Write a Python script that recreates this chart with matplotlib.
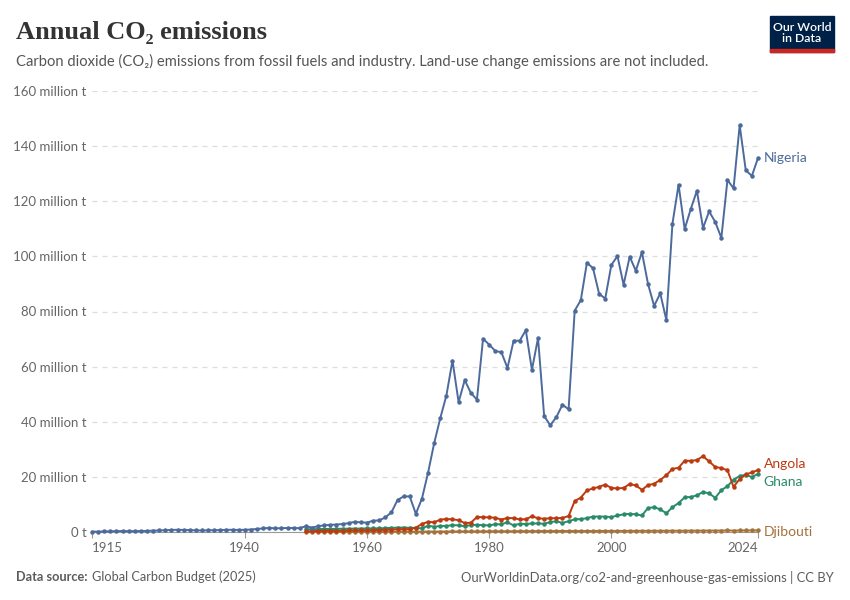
import matplotlib.pyplot as plt
from matplotlib.patches import Rectangle

# annual CO2 emissions, million tonnes
years_ng = list(range(1915, 2025))
nigeria = [0.1, 0.15, 0.2, 0.25, 0.3, 0.35, 0.3, 0.3, 0.35, 0.4,
           0.5, 0.55, 0.65, 0.75, 0.8, 0.75, 0.7, 0.6, 0.55, 0.6,
           0.65, 0.7, 0.8, 0.8, 0.75, 0.8, 0.9, 1.1, 1.3, 1.5,
           1.3, 1.4, 1.45, 1.45, 1.4, 2.1, 1.6, 2.1, 2.4, 2.6,
           2.7, 2.9, 3.2, 3.7, 3.5, 3.4, 4.1, 4.2, 5.3, 7.1,
           11.6, 12.9, 12.9, 6.6, 12.1, 21.5, 32.2, 41.3, 49.5, 62.2,
           47.1, 55.1, 50.5, 48.0, 70.1, 68.0, 65.7, 65.2, 59.5, 69.4,
           69.4, 73.2, 58.8, 70.4, 42.1, 38.7, 41.7, 46.2, 44.5, 80.3,
           84.1, 97.7, 95.7, 86.4, 84.7, 96.9, 100.1, 89.7, 99.9, 94.8,
           101.5, 90.0, 82.0, 86.6, 76.9, 111.9, 126.0, 109.9, 117.2, 123.8,
           110.3, 116.3, 112.5, 106.7, 127.7, 124.7, 147.6, 131.2, 129.2, 135.7]

years = list(range(1950, 2025))
angola = [0.2, 0.3, 0.4, 0.45, 0.5, 0.5, 0.5, 0.55, 0.6, 0.6,
          0.65, 0.7, 0.75, 0.8, 0.9, 0.95, 1.0, 1.0, 1.6, 2.9,
          3.7, 3.5, 4.5, 4.7, 4.6, 4.3, 3.2, 3.4, 5.4, 5.4,
          5.3, 5.2, 4.5, 5.1, 5.0, 4.6, 4.6, 5.7, 5.0, 4.8,
          5.0, 5.0, 5.1, 5.8, 11.2, 12.5, 15.1, 15.8, 16.4, 17.2,
          16.0, 15.8, 16.0, 17.4, 16.9, 15.3, 17.0, 17.5, 18.9, 20.6,
          22.9, 23.3, 25.9, 25.8, 26.1, 27.5, 25.6, 23.6, 23.2, 22.4,
          16.4, 19.2, 20.9, 21.6, 22.5]
ghana = [1.0, 1.0, 1.05, 1.1, 1.1, 1.15, 1.2, 1.2, 1.25, 1.25,
         1.3, 1.3, 1.35, 1.4, 1.5, 1.6, 1.6, 1.55, 1.5, 1.3,
         2.3, 1.9, 2.2, 2.2, 2.5, 2.4, 2.1, 2.5, 2.6, 2.5,
         2.4, 2.8, 2.8, 3.5, 2.4, 3.0, 2.9, 3.1, 3.1, 3.0,
         3.6, 3.9, 3.3, 3.9, 4.6, 4.7, 5.0, 5.6, 5.6, 5.6,
         5.4, 6.0, 6.4, 6.6, 6.4, 6.0, 8.7, 9.0, 8.2, 6.8,
         9.0, 10.5, 12.6, 12.7, 13.3, 14.5, 14.0, 12.4, 15.2, 16.6,
         19.0, 20.3, 20.8, 19.9, 21.1]
djibouti = [0.02, 0.02, 0.03, 0.03, 0.03, 0.04, 0.04, 0.05, 0.05, 0.06,
            0.06, 0.07, 0.08, 0.09, 0.1, 0.1, 0.11, 0.12, 0.13, 0.14,
            0.15, 0.16, 0.17, 0.18, 0.19, 0.2, 0.2, 0.21, 0.22, 0.23,
            0.24, 0.25, 0.26, 0.27, 0.28, 0.3, 0.31, 0.32, 0.33, 0.34,
            0.35, 0.36, 0.37, 0.36, 0.35, 0.36, 0.37, 0.37, 0.38, 0.39,
            0.4, 0.4, 0.41, 0.42, 0.42, 0.43, 0.43, 0.44, 0.45, 0.46,
            0.47, 0.46, 0.48, 0.49, 0.5, 0.5, 0.52, 0.52, 0.54, 0.55,
            0.52, 0.55, 0.56, 0.57, 0.58]

yticks = [0, 20, 40, 60, 80, 100, 120, 140, 160]
ytick_labels = ['0 t'] + [f'{v} million t' for v in yticks[1:]]
xticks = [1915, 1940, 1960, 1980, 2000, 2024]

plt.rcParams['font.family'] = ['Lato', 'DejaVu Sans']
grey = '#666666'

fig = plt.figure(figsize=(8.5, 6), dpi=100)
ax = fig.add_axes([92 / 850, 1 - 532 / 600, (758 - 92) / 850, (532 - 91) / 600])

# series: (name, x, y, colour, label y position)
series = [
    ('Djibouti', years, djibouti, '#A5723A', 0.0),
    ('Ghana', years, ghana, '#2A8B68', 18.1),
    ('Angola', years, angola, '#BC3A10', 24.7),
    ('Nigeria', years_ng, nigeria, '#4C6A9C', 135.7),
]
for name, xs, ys, col, ly in series:
    ax.plot(xs, ys, color=col, lw=1.4, marker='o', ms=2.2, clip_on=False, zorder=3)
    ax.annotate(name, xy=(2024, ly), xytext=(4, 0), textcoords='offset points',
                va='center', ha='left', color=col, fontsize=10, annotation_clip=False)

ax.set_xlim(1915, 2024)
ax.set_ylim(0, 160)
ax.set_yticks(yticks)
ax.set_yticklabels(ytick_labels)
ax.set_xticks(xticks)
ax.set_xticklabels([str(x) for x in xticks])
lbls = ax.get_xticklabels()
lbls[0].set_ha('left')
lbls[-1].set_ha('right')

ax.grid(axis='y', color='#dddddd', ls=(0, (4, 4)), lw=0.9)
ax.set_axisbelow(True)
for s in ['top', 'right', 'left']:
    ax.spines[s].set_visible(False)
ax.spines['bottom'].set_color('#999999')
ax.tick_params(axis='y', length=0, pad=4, colors=grey, labelsize=9.5)
ax.tick_params(axis='x', length=4, color='#999999', colors=grey, labelsize=9.5, pad=3)

# header
fig.text(16 / 850, 1 - 32 / 600, 'Annual CO₂ emissions', fontsize=19, fontweight='bold',
         family=['Liberation Serif', 'DejaVu Serif'], color='#333333', va='center')
fig.text(16 / 850, 1 - 61 / 600,
         'Carbon dioxide (CO₂) emissions from fossil fuels and industry. '
         'Land-use change emissions are not included.',
         fontsize=10.6, color='#555555', va='center')

# logo
fig.patches.append(Rectangle((770 / 850, 1 - 52 / 600), 64 / 850, 36 / 600,
                             transform=fig.transFigure, color='#002147', zorder=5))
fig.patches.append(Rectangle((770 / 850, 1 - 52 / 600), 64 / 850, 3 / 600,
                             transform=fig.transFigure, color='#CE261E', zorder=6))
fig.text(802 / 850, 1 - 33 / 600, 'Our World\nin Data', color='white', fontsize=8.8,
         ha='center', va='center', linespacing=1.0, zorder=7, fontweight='semibold')

# footer
src = fig.text(16 / 850, 1 - 577 / 600, 'Data source:', fontsize=9.2, color='#5b5b5b',
               fontweight='bold', va='center')
fig.canvas.draw()
bb = src.get_window_extent()
fig.text((bb.x1 + 4) / 850, 1 - 577 / 600, 'Global Carbon Budget (2025)', fontsize=9.2,
         color='#5b5b5b', va='center')
fig.text(834 / 850, 1 - 577 / 600,
         'OurWorldinData.org/co2-and-greenhouse-gas-emissions | CC BY',
         fontsize=9.4, color='#5b5b5b', va='center', ha='right')

fig.savefig('out.png', dpi=100)
